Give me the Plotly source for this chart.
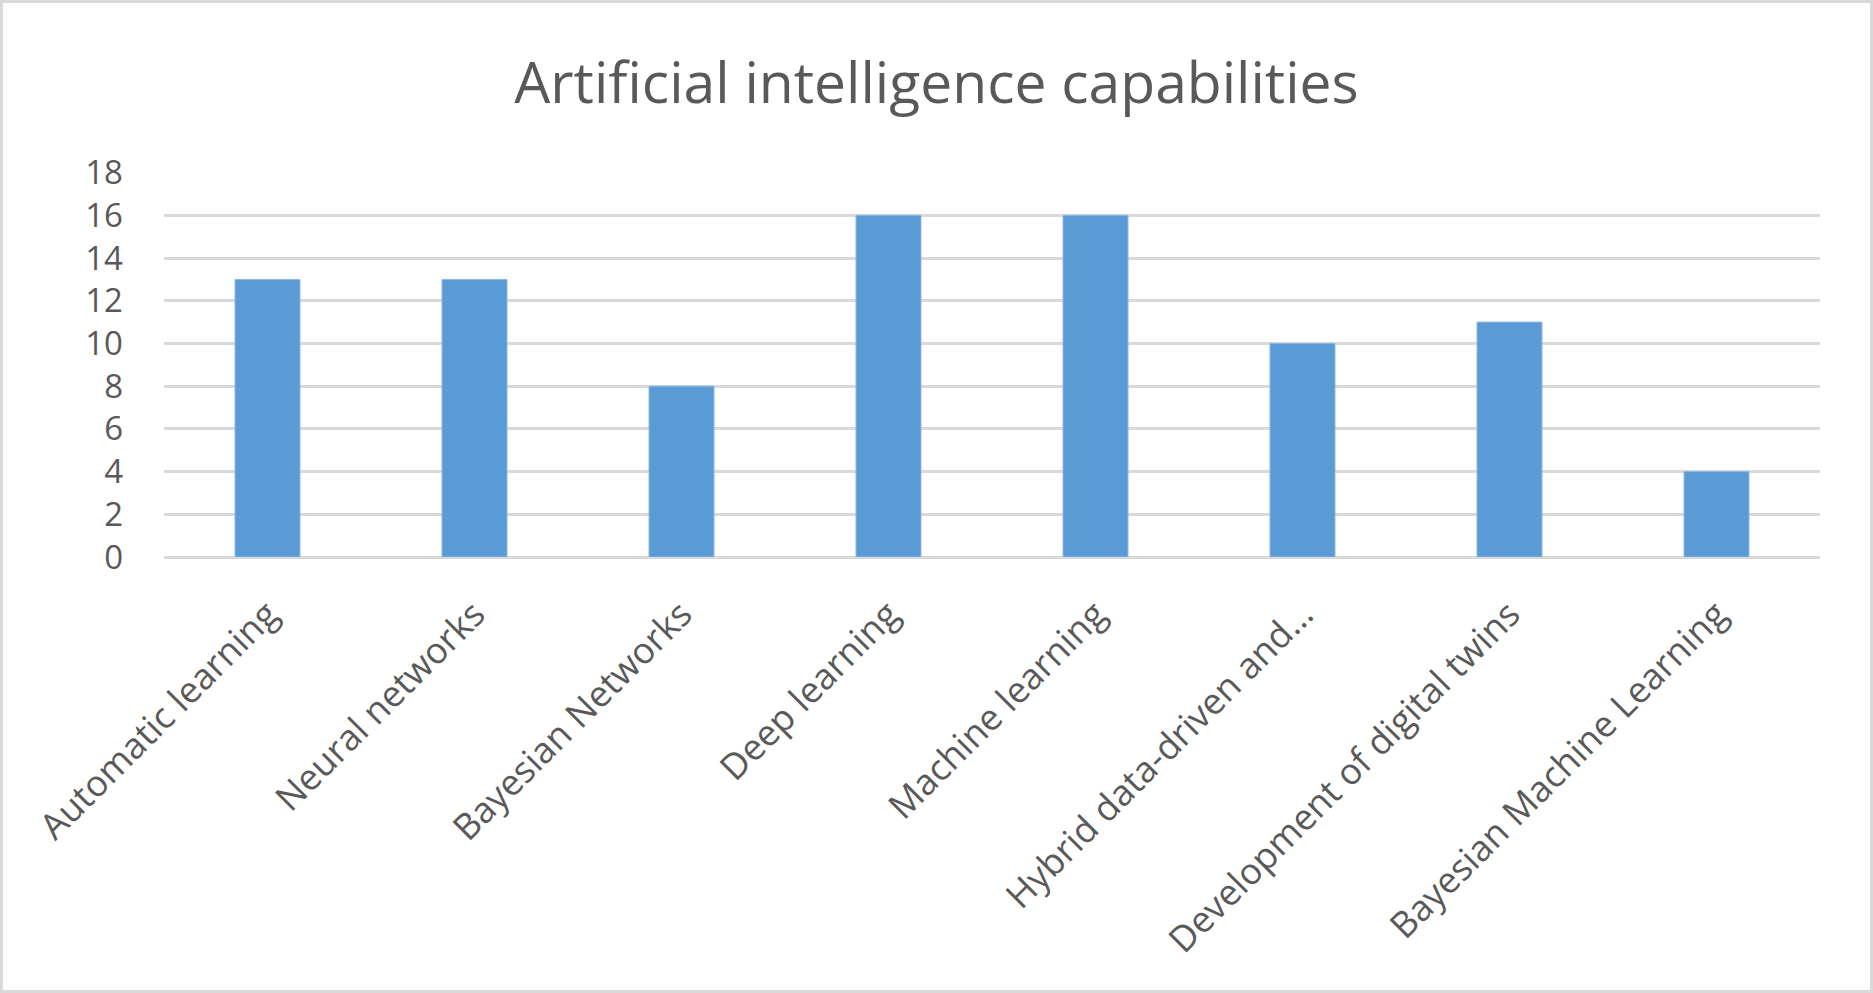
import plotly.graph_objects as go

categories = [
    "Automatic learning",
    "Neural networks",
    "Bayesian Networks",
    "Deep learning",
    "Machine learning",
    "Hybrid data-driven and…",
    "Development of digital twins",
    "Bayesian Machine Learning",
]
values = [13, 13, 8, 16, 16, 10, 11, 4]
y_ticks = [0, 2, 4, 6, 8, 10, 12, 14, 16, 18]

W, H = 1873, 993
ML, MR, MT, MB = 164, 53, 172, 436
pw, ph = W - ML - MR, H - MT - MB

fig = go.Figure()
fig.add_trace(go.Bar(
    x=categories, y=values,
    marker=dict(color="#5B9BD5", line=dict(color="#8DB8E4", width=1)),
))

fig.update_layout(
    width=W, height=H,
    margin=dict(l=ML, r=MR, t=MT, b=MB, autoexpand=False),
    paper_bgcolor="white", plot_bgcolor="white",
    bargap=0.686,
    showlegend=False,
    title=dict(
        text="Artificial intelligence capabilities",
        x=0.5, xref="container", xanchor="center",
        y=1 - 83 / H, yref="container", yanchor="middle",
        font=dict(family="Open Sans", size=57, color="#595959"),
    ),
    font=dict(family="Open Sans", color="#595959"),
    xaxis=dict(
        tickangle=-45,
        tickfont=dict(family="Open Sans", size=36, color="#595959"),
        showgrid=False, showline=False, ticks="",
        ticklabelstandoff=28,
    ),
    yaxis=dict(
        range=[0, 18.03], tickvals=y_ticks,
        tickfont=dict(family="Open Sans", size=33, color="#595959"),
        showgrid=True, gridcolor="#D9D9D9", gridwidth=2.5,
        zeroline=True, zerolinecolor="#D9D9D9", zerolinewidth=2.5,
        showline=False, ticks="",
        ticklabelstandoff=40,
    ),
    shapes=[dict(
        type="rect", xref="paper", yref="paper",
        x0=(1.5 - ML) / pw, x1=(W - 1.5 - ML) / pw,
        y0=-(MB - 1.5) / ph, y1=1 + (MT - 1.5) / ph,
        line=dict(color="#D9D9D9", width=3), fillcolor="rgba(0,0,0,0)",
        layer="below",
    )],
)

fig.write_html(
    "out.html",
    config={"displayModeBar": False},
    post_script="document.body.style.margin='0';document.body.style.overflow='hidden';",
)
